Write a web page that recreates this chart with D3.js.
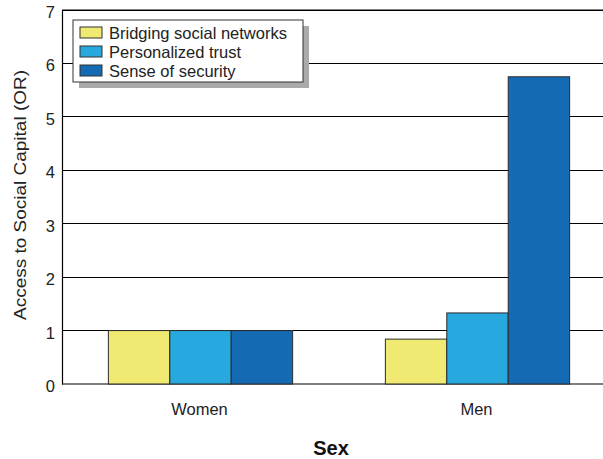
<!DOCTYPE html>
<html>
<head>
<meta charset="utf-8">
<script src="https://cdn.jsdelivr.net/npm/d3@7"></script>
<style>
  html, body { margin: 0; padding: 0; background: #fff; }
  svg { display: block; font-family: Arial, "Liberation Sans", sans-serif; }
</style>
</head>
<body>
<svg id="chart" width="603" height="459"></svg>
<script>
// Odds ratios of access to social capital, by sex
const categories = ["Women", "Men"];
const seriesNames = ["Bridging social networks", "Personalized trust", "Sense of security"];
const bridging = [1.0, 0.84];
const trust = [1.0, 1.33];
const security = [1.0, 5.75];
const yTicks = [0, 1, 2, 3, 4, 5, 6, 7];
const colors = ["#f0ea72", "#27a8de", "#156bb3"];

const seriesValues = [bridging, trust, security];
const rows = categories.map((c, i) => ({
  category: c,
  values: seriesNames.map((s, j) => ({ series: s, value: seriesValues[j][i] }))
}));

const svg = d3.select("#chart");
const plotLeft = 62, plotTop = 10, plotBottom = 384, plotRight = 616;

const x = d3.scaleBand().domain(categories).range([plotLeft, plotRight]).padding(0);
const xSub = d3.scaleBand().domain(seriesNames).range([0, x.bandwidth()])
  .paddingInner(0).paddingOuter(0.755);
const y = d3.scaleLinear().domain([0, 7]).range([plotBottom, plotTop]);
const color = d3.scaleOrdinal().domain(seriesNames).range(colors);

// horizontal grid lines
svg.append("g")
  .selectAll("line")
  .data(yTicks.filter(t => t > 0))
  .join("line")
  .attr("x1", plotLeft).attr("x2", 603)
  .attr("y1", d => y(d)).attr("y2", d => y(d))
  .attr("stroke", "#000").attr("stroke-width", 1)
  .attr("shape-rendering", "crispEdges");

// baseline
svg.append("line")
  .attr("x1", plotLeft).attr("x2", 603)
  .attr("y1", y(0)).attr("y2", y(0))
  .attr("stroke", "#555").attr("stroke-width", 1.5);

// bars
const groups = svg.append("g").selectAll("g")
  .data(rows)
  .join("g")
  .attr("transform", d => `translate(${x(d.category)},0)`);

groups.selectAll("rect")
  .data(d => d.values)
  .join("rect")
  .attr("x", d => xSub(d.series))
  .attr("width", xSub.bandwidth())
  .attr("y", d => y(d.value))
  .attr("height", d => y(0) - y(d.value))
  .attr("fill", d => color(d.series))
  .attr("stroke", "#2b2b2b")
  .attr("stroke-width", 1);

// y axis
const yAxis = d3.axisLeft(y).tickValues(yTicks).tickSize(0).tickPadding(7)
  .tickFormat(d3.format("d"));
const gy = svg.append("g").attr("transform", `translate(${plotLeft},0)`).call(yAxis);
gy.select(".domain").attr("stroke", "#000").attr("stroke-width", 1.2);
gy.selectAll("text").attr("font-size", 16.5).attr("fill", "#222")
  .attr("font-family", "Arial, 'Liberation Sans', sans-serif").attr("dy", "0.45em");

// frame top
svg.append("line")
  .attr("x1", plotLeft).attr("x2", 603)
  .attr("y1", plotTop).attr("y2", plotTop)
  .attr("stroke", "#000").attr("stroke-width", 1.2);

// x axis labels
svg.append("g").selectAll("text")
  .data(categories)
  .join("text")
  .attr("x", d => x(d) + x.bandwidth() / 2 - 1)
  .attr("y", 415)
  .attr("text-anchor", "middle")
  .attr("font-size", 16.5)
  .attr("fill", "#222")
  .text(d => d);

// axis titles
svg.append("text")
  .attr("x", 331).attr("y", 455)
  .attr("text-anchor", "middle")
  .attr("font-size", 20).attr("font-weight", "bold")
  .attr("fill", "#111")
  .text("Sex");

svg.append("text")
  .attr("transform", "translate(26,195) rotate(-90)")
  .attr("text-anchor", "middle")
  .attr("font-size", 17)
  .attr("fill", "#222")
  .attr("textLength", 250)
  .attr("lengthAdjust", "spacingAndGlyphs")
  .text("Access to Social Capital (OR)");

// legend
const legend = svg.append("g").attr("transform", "translate(73,20)");
legend.append("rect")
  .attr("x", 6).attr("y", 6).attr("width", 230).attr("height", 62)
  .attr("fill", "#aaa");
legend.append("rect")
  .attr("x", 0).attr("y", 0).attr("width", 230).attr("height", 62)
  .attr("fill", "#fff").attr("stroke", "#333").attr("stroke-width", 1);

const items = legend.selectAll("g.item")
  .data(seriesNames)
  .join("g")
  .attr("class", "item")
  .attr("transform", (d, i) => `translate(7,${7 + i * 19})`);
items.append("rect")
  .attr("width", 22).attr("height", 11)
  .attr("fill", d => color(d))
  .attr("stroke", "#333").attr("stroke-width", 1);
items.append("text")
  .attr("x", 29).attr("y", 12)
  .attr("font-size", 16.5)
  .attr("fill", "#222")
  .text(d => d);
</script>
</body>
</html>
